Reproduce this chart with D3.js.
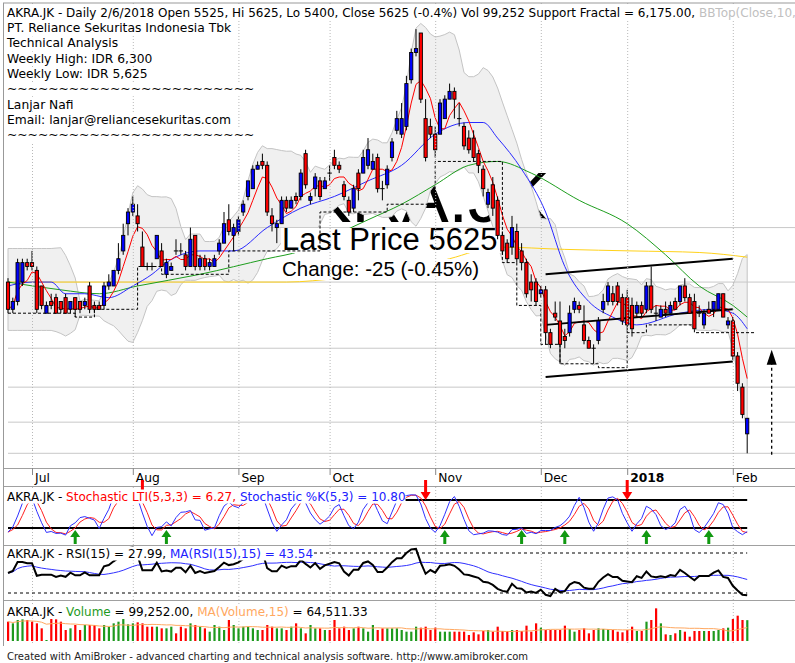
<!DOCTYPE html>
<html>
<head>
<meta charset="utf-8">
<title>AKRA.JK</title>
<script src="https://cdn.jsdelivr.net/npm/d3@7"></script>
<style>
  body { margin: 0; background: #fff; }
  #drawing_region { display: block; font-family: "DejaVu Sans", sans-serif; }
  text { white-space: pre; }
</style>
</head>
<body>
<svg id="drawing_region"></svg>
<script>
// daily bars, 16 Jun 2017 .. 6 Feb 2018 (IDR)
const opens = [
  6500, 6325, 6375, 6500, 6625, 6625, 6575, 6475, 6300, 6375,
  6400, 6375, 6400, 6325, 6400, 6375, 6350, 6475, 6350, 6350,
  6350, 6475, 6475, 6575, 6700, 6875, 6950, 6925, 6725, 6600,
  6600, 6650, 6700, 6550, 6575, 6700, 6700, 6675, 6600, 6800,
  6600, 6650, 6600, 6600, 6700, 6750, 6900, 6800, 6825, 6950,
  7050, 7100, 7225, 7275, 7250, 6925, 6850, 6875, 7025, 6975,
  7050, 7050, 7325, 7025, 7100, 7150, 7100, 7200, 7300, 7250,
  7125, 7025, 6975, 7200, 7200, 7250, 7225, 7300, 7100, 7125,
  7300, 7475, 7450, 7500, 7800, 7975, 8100, 7550, 7500, 7450,
  7450, 7550, 7675, 7725, 7550, 7500, 7425, 7425, 7325, 7225,
  7000, 7125, 7025, 6800, 6750, 6725, 6825, 6700, 6625, 6500,
  6500, 6425, 6450, 6175, 6300, 6250, 6150, 6175, 6325, 6350,
  6225, 6125, 6075, 6125, 6325, 6375, 6425, 6475, 6400, 6400,
  6350, 6300, 6350, 6325, 6475, 6300, 6275, 6325, 6300, 6375,
  6375, 6475, 6400, 6375, 6300, 6225, 6325, 6325, 6325, 6425,
  6225, 6250, 6025, 5825, 5525
];
const highs = [
  6525, 6400, 6650, 6650, 6650, 6700, 6600, 6475, 6375, 6425,
  6425, 6375, 6425, 6375, 6400, 6375, 6400, 6500, 6375, 6375,
  6500, 6550, 6575, 6750, 6875, 6975, 7050, 7000, 6825, 6625,
  6625, 6800, 6750, 6650, 6625, 6775, 6750, 6700, 6850, 6800,
  6675, 6675, 6650, 6675, 6775, 6950, 7000, 6875, 6925, 7025,
  7150, 7250, 7275, 7325, 7275, 6975, 6900, 7050, 7050, 7050,
  7075, 7225, 7350, 7075, 7200, 7175, 7175, 7250, 7350, 7275,
  7150, 7050, 7125, 7225, 7350, 7425, 7325, 7325, 7150, 7250,
  7425, 7600, 7650, 7825, 8000, 8125, 8100, 7675, 7550, 7500,
  7675, 7700, 7775, 7750, 7650, 7525, 7475, 7475, 7350, 7250,
  7100, 7175, 7050, 6825, 6775, 6925, 6875, 6750, 6650, 6550,
  6525, 6475, 6475, 6200, 6375, 6375, 6200, 6350, 6400, 6375,
  6350, 6150, 6100, 6275, 6425, 6500, 6475, 6500, 6425, 6450,
  6400, 6375, 6375, 6500, 6600, 6350, 6350, 6375, 6375, 6400,
  6475, 6525, 6425, 6425, 6350, 6325, 6375, 6375, 6425, 6425,
  6275, 6275, 6050, 5850, 5625
];
const lows = [
  6300, 6300, 6350, 6475, 6575, 6575, 6300, 6325, 6300, 6325,
  6300, 6300, 6300, 6300, 6275, 6300, 6325, 6300, 6300, 6325,
  6325, 6450, 6475, 6550, 6675, 6800, 6925, 6825, 6600, 6575,
  6575, 6650, 6600, 6525, 6575, 6675, 6675, 6575, 6600, 6575,
  6575, 6575, 6575, 6600, 6675, 6750, 6800, 6700, 6800, 6925,
  7025, 7100, 7225, 7225, 6925, 6825, 6750, 6875, 6950, 6975,
  7000, 7025, 7100, 7000, 7050, 7025, 7100, 7150, 7225, 7200,
  7025, 6925, 6950, 7025, 7200, 7225, 7225, 7075, 7025, 7100,
  7275, 7450, 7425, 7475, 7775, 7950, 7650, 7275, 7425, 7300,
  7450, 7550, 7675, 7550, 7500, 7350, 7325, 7275, 7200, 7050,
  6975, 6925, 6775, 6675, 6625, 6675, 6625, 6575, 6400, 6375,
  6350, 6400, 6100, 6075, 6250, 5975, 6075, 6150, 6300, 6300,
  6100, 6075, 5975, 6100, 6300, 6350, 6350, 6350, 6225, 6175,
  6150, 6275, 6275, 6300, 6300, 6250, 6275, 6275, 6300, 6325,
  6350, 6375, 6300, 6200, 6275, 6200, 6300, 6275, 6325, 6275,
  6200, 6000, 5800, 5625, 5400
];
const closes = [
  6325, 6375, 6625, 6625, 6600, 6600, 6325, 6350, 6350, 6350,
  6300, 6325, 6300, 6375, 6325, 6325, 6375, 6325, 6325, 6325,
  6475, 6500, 6575, 6650, 6800, 6950, 7000, 6875, 6600, 6600,
  6600, 6800, 6600, 6625, 6600, 6700, 6700, 6600, 6775, 6600,
  6650, 6600, 6625, 6650, 6750, 6875, 6825, 6850, 6900, 7000,
  7150, 7225, 7250, 7250, 6950, 6875, 6875, 7025, 6975, 7025,
  7025, 7200, 7125, 7050, 7175, 7050, 7150, 7200, 7250, 7225,
  7050, 6950, 7100, 7100, 7300, 7350, 7275, 7100, 7100, 7225,
  7400, 7550, 7550, 7775, 7975, 8000, 7675, 7300, 7450, 7350,
  7650, 7675, 7725, 7675, 7550, 7375, 7350, 7300, 7250, 7100,
  7075, 6975, 6800, 6700, 6650, 6850, 6650, 6625, 6425, 6450,
  6375, 6450, 6175, 6100, 6275, 6100, 6125, 6300, 6375, 6325,
  6125, 6075, 6075, 6250, 6375, 6475, 6375, 6375, 6250, 6225,
  6200, 6350, 6300, 6475, 6325, 6300, 6325, 6300, 6350, 6325,
  6475, 6400, 6300, 6200, 6300, 6300, 6300, 6375, 6425, 6275,
  6250, 6025, 5850, 5650, 5625
];
const volumes = [
  92000, 84100, 100000, 103100, 100000, 92000, 84100, 60300, 4800, 104700,
  103100, 92000, 52400, 60300, 76200, 52400, 76200, 76200, 76200, 60300,
  76200, 68200, 84100, 92000, 104700, 79300, 84100, 88900, 84100, 68200,
  68200, 68200, 60300, 60300, 68200, 36500, 68200, 60300, 84100, 76200,
  68200, 60300, 44400, 76200, 68200, 52400, 100000, 76200, 60300, 68200,
  68200, 60300, 52400, 52400, 76200, 68200, 60300, 60300, 52400, 68200,
  84100, 60300, 36500, 76200, 60300, 60300, 52400, 52400, 100000, 60300,
  68200, 52400, 60300, 68200, 60300, 44400, 76200, 52400, 60300, 60300,
  60300, 60300, 52400, 44400, 44400, 68200, 63500, 68200, 52400, 63500,
  44400, 44400, 44400, 44400, 44400, 44400, 28600, 41300, 31700, 47600,
  52400, 44400, 68200, 47600, 47600, 52400, 52400, 47600, 73000, 44400,
  84100, 63500, 52400, 52400, 52400, 52400, 73000, 57100, 44400, 52400,
  60300, 36500, 52400, 60300, 57100, 57100, 52400, 44400, 41300, 52400,
  68200, 47600, 47600, 92000, 100000, 155500, 84100, 31700, 28600, 36500,
  52400, 44400, 20600, 47600, 47600, 47600, 47600, 47600, 52400, 60300,
  63500, 104700, 120600, 100000, 99252
];

// moving averages: [bar, price]
const ma20Pts = [[0,6475],[5,6500],[9,6500],[12,6425],[16,6425],[21,6400],[26,6475],[30,6550],[33,6625],
  [40,6700],[47,6700],[54,6850],[61,6975],[68,7050],[75,7150],[82,7250],[89,7450],[96,7525],[99,7525],
  [102,7425],[107,7225],[112,6950],[116,6600],[121,6375],[126,6275],[131,6225],[140,6300],[147,6325],
  [151,6300],[154,6200]];
const ma50Pts = [[0,6500],[11,6450],[19,6425],[27,6475],[40,6550],[54,6650],[61,6700],[68,6800],[75,6900],
  [82,7000],[89,7125],[96,7250],[102,7275],[109,7200],[119,7025],[129,6875],[137,6675],[144,6475],
  [151,6350],[154,6275]];
const ma100Pts = [[0,6500],[19,6500],[40,6500],[58,6500],[69,6525],[82,6575],[92,6650],[102,6725],
  [116,6710],[130,6700],[144,6690],[154,6660]];

// support fractal steps: [from bar, to bar, price]
const fractalSteps = [[0,14,6300],[14,18,6275],[18,27,6325],[27,32,6600],[32,46,6550],[46,65,6700],
  [65,79,6950],[79,89,7000],[89,103,7275],[103,106,6625],[106,111,6350],[111,115,6100],[115,123,5975],
  [123,129,5950],[129,133,6175],[133,143,6225],[143,155.5,6175]];

// hand drawn channel
const channelLines = [[[112,6550],[151,6650]], [[112,6225],[151,6325]], [[112,5890],[151,5990]]];
const targetArrow = {bar: 159.1, from: 5390, to: 6065};

const monthStarts = [5, 26, 48, 67, 89, 111, 129, 151];
const monthLabels = ["Jul", "Aug", "Sep", "Oct", "Nov", "Dec", "2018", "Feb"];
const priceGrid = [6850, 6500, 6075, 5825, 5600, 5400];
const buySignals = [14, 33, 91, 107, 116, 133, 146];
const sellSignals = [28, 87, 129];

const infoLines = ["PT. Reliance Sekuritas Indonesia Tbk", "Technical Analysis", "Weekly High: IDR 6,300",
  "Weekly Low: IDR 5,625", "~~~~~~~~~~~~~~~~~~~~~~~~", "Lanjar Nafi", "Email: lanjar@reliancesekuritas.com",
  "~~~~~~~~~~~~~~~~~~~~~~~~"];

const svg = d3.select('#drawing_region').attr('width', 795).attr('height', 663);

const n = closes.length;
const x = d3.scaleLinear().domain([0, n - 1]).range([8, 747.2]);
const yP = d3.scaleLinear().domain([5400, 8100]).range([453.3, 33]);
const yS = d3.scaleLinear().domain([0, 100]).range([537.3, 490.7]);
const yR = d3.scaleLinear().domain([30, 70]).range([593, 553]);
const yV = d3.scaleLinear().domain([0, 160000]).range([641, 607.4]);

const panes = [[3, 468], [487, 545], [545, 600], [600, 645]];

// indicators
const sma = (arr, p) => arr.map((_, i) => d3.mean(arr.slice(Math.max(0, i - p + 1), i + 1)));
const ma5 = sma(closes, 5);
// first bars have no history, so they share the first full window
const bb = closes.map((_, i) => {
  const end = Math.max(i, 9);
  const w = closes.slice(end - 9, end + 1);
  const m = d3.mean(w);
  const sd = Math.sqrt(d3.mean(w, v => (v - m) ** 2));
  return {i, top: m + 2 * sd, bot: m - 2 * sd};
});
const fastK = closes.map((c, i) => {
  const hh = d3.max(highs.slice(Math.max(0, i - 4), i + 1));
  const ll = d3.min(lows.slice(Math.max(0, i - 4), i + 1));
  return hh === ll ? 50 : 100 * (c - ll) / (hh - ll);
});
const stochK = sma(fastK, 3);
const stochD = sma(stochK, 3);
const rsi = [];
let avgUp = 40, avgDn = 40;
closes.forEach((c, i) => {
  if (i > 0) {
    const d = c - closes[i - 1];
    avgUp = (avgUp * 14 + Math.max(d, 0)) / 15;
    avgDn = (avgDn * 14 + Math.max(-d, 0)) / 15;
  }
  rsi.push(100 - 100 / (1 + avgUp / avgDn));
});
const rsiMA = sma(rsi, 15);
const volMA = sma(volumes, 15);

// clip paths
const defs = svg.append('defs');
panes.forEach((p, k) => {
  defs.append('clipPath').attr('id', 'clip' + k).append('rect')
    .attr('x', 4).attr('y', p[0]).attr('width', 791).attr('height', p[1] - p[0]);
});

// text with an opaque white box behind it
function boxedText(g, tx, ty, parts, size) {
  const t = g.append('text').attr('x', tx).attr('y', ty).attr('font-size', size);
  parts.forEach(p => t.append('tspan').attr('fill', p[1]).text(p[0]));
  const b = t.node().getBBox();
  g.insert('rect', () => t.node()).attr('x', b.x).attr('y', b.y)
    .attr('width', b.width).attr('height', b.height).attr('fill', '#fff');
  return t;
}

const line = (ys) => d3.line().x((d, i) => x(i)).y(d => ys(d));

// ---------- price pane ----------
const gP = svg.append('g').attr('clip-path', 'url(#clip0)');

gP.append('text').attr('x', 258).attr('y', 222)
  .attr('font-family', '"Liberation Sans", Arial, sans-serif').attr('font-size', 70)
  .attr('fill', '#000').text('AKRA.JK');

gP.append('path').datum(bb)
  .attr('d', d3.area().x(d => x(d.i)).y0(d => yP(d.bot)).y1(d => yP(d.top)))
  .attr('fill', '#f0f0f0').attr('stroke', '#c4c4c4').attr('stroke-width', 1);

gP.selectAll('.hgrid').data(priceGrid).enter().append('line')
  .attr('x1', 8).attr('x2', 795).attr('y1', d => yP(d)).attr('y2', d => yP(d))
  .attr('stroke', '#c8c8c8');

const ptLine = d3.line().curve(d3.curveMonotoneX).x(d => x(d[0])).y(d => yP(d[1]));
[[ma100Pts, '#ffd21a'], [ma50Pts, '#1e9e1e'], [ma20Pts, '#2a2aff']].forEach(([pts, col]) => {
  gP.append('path').datum(pts).attr('d', ptLine).attr('fill', 'none').attr('stroke', col).attr('stroke-width', 1);
});
gP.append('path').datum(ma5).attr('d', line(yP)).attr('fill', 'none').attr('stroke', '#ff0000').attr('stroke-width', 1);

const lp = gP.append('g').attr('font-family', '"Liberation Sans", Arial, sans-serif');
lp.append('rect').attr('x', 281).attr('y', 228).attr('width', 220).attr('height', 25).attr('fill', '#fff');
lp.append('rect').attr('x', 281).attr('y', 259).attr('width', 200).attr('height', 21).attr('fill', '#fff');
lp.append('text').attr('x', 282).attr('y', 250).attr('font-size', 31).text('Last Price 5625');
lp.append('text').attr('x', 282).attr('y', 276).attr('font-size', 20.5).text('Change: -25 (-0.45%)');

// support fractal step line
let fd = '';
fractalSteps.forEach((s, k) => {
  fd += (k === 0 ? 'M' : 'L') + x(s[0]) + ',' + yP(s[2]) + 'L' + x(s[1]) + ',' + yP(s[2]);
});
gP.append('path').attr('d', fd).attr('fill', 'none').attr('stroke', '#000').attr('stroke-dasharray', '3,2');

channelLines.forEach(c => {
  gP.append('line').attr('x1', x(c[0][0])).attr('y1', yP(c[0][1])).attr('x2', x(c[1][0])).attr('y2', yP(c[1][1]))
    .attr('stroke', '#000').attr('stroke-width', 2);
});

// candles
const bars = closes.map((c, i) => ({i, o: opens[i], h: highs[i], l: lows[i], c}));
const cg = gP.selectAll('.candle').data(bars).enter().append('g').attr('class', 'candle');
cg.append('line').attr('x1', d => x(d.i)).attr('x2', d => x(d.i))
  .attr('y1', d => yP(d.h)).attr('y2', d => yP(d.l)).attr('stroke', '#000');
cg.filter(d => d.o !== d.c).append('rect')
  .attr('x', d => x(d.i) - 1.6).attr('width', 3.2)
  .attr('y', d => yP(Math.max(d.o, d.c))).attr('height', d => Math.abs(yP(d.o) - yP(d.c)))
  .attr('fill', d => d.c > d.o ? '#0000ff' : '#ff0000').attr('stroke', '#000').attr('stroke-width', 0.9);
cg.filter(d => d.o === d.c).append('line')
  .attr('x1', d => x(d.i) - 2.2).attr('x2', d => x(d.i) + 2.2)
  .attr('y1', d => yP(d.c)).attr('y2', d => yP(d.c)).attr('stroke', '#000');

// target arrow
const ax = x(targetArrow.bar);
gP.append('line').attr('x1', ax).attr('x2', ax).attr('y1', yP(targetArrow.from)).attr('y2', yP(targetArrow.to) + 12)
  .attr('stroke', '#000').attr('stroke-width', 1.3).attr('stroke-dasharray', '3,3');
gP.append('path').attr('d', `M${ax},${yP(targetArrow.to)}L${ax - 5},${yP(targetArrow.to) + 15}L${ax + 5},${yP(targetArrow.to) + 15}Z`)
  .attr('fill', '#000');

// ---------- grids, borders, axis ----------
const frame = svg.append('g');
panes.forEach(p => {
  frame.selectAll(null).data(monthStarts).enter().append('line')
    .attr('x1', d => x(d) + 0.5).attr('x2', d => x(d) + 0.5).attr('y1', p[0]).attr('y2', p[1])
    .attr('stroke', '#b8b8b8').attr('stroke-dasharray', '1,2');
});
[468.5, 486.5, 545.5, 600.5].forEach(yy => {
  frame.append('line').attr('x1', 3).attr('x2', 795).attr('y1', yy).attr('y2', yy).attr('stroke', '#a0a0a0');
});
frame.append('line').attr('x1', 3).attr('x2', 795).attr('y1', 3).attr('y2', 3).attr('stroke', '#999');
frame.append('line').attr('x1', 3.5).attr('x2', 3.5).attr('y1', 3).attr('y2', 646).attr('stroke', '#999');

const axisG = svg.append('g').attr('font-size', 12.3);
monthStarts.forEach((m, k) => {
  axisG.append('line').attr('x1', x(m) + 0.5).attr('x2', x(m) + 0.5).attr('y1', 468).attr('y2', 475).attr('stroke', '#888');
  axisG.append('text').attr('x', x(m) + 3).attr('y', 482)
    .attr('font-weight', monthLabels[k] === '2018' ? 'bold' : 'normal').text(monthLabels[k]);
});

// ---------- stochastic pane ----------
const gS = svg.append('g').attr('clip-path', 'url(#clip1)');
[80, 20].forEach(v => {
  gS.append('line').attr('x1', x(0)).attr('x2', x(n - 1)).attr('y1', yS(v)).attr('y2', yS(v))
    .attr('stroke', '#000').attr('stroke-width', 2);
});
gS.append('path').datum(stochD).attr('d', line(yS)).attr('fill', 'none').attr('stroke', '#ff2020');
gS.append('path').datum(stochK).attr('d', line(yS)).attr('fill', 'none').attr('stroke', '#3030ff');
buySignals.forEach(b => {
  const bx = x(b);
  gS.append('path').attr('d', `M${bx},530L${bx - 5},537L${bx - 1.5},537L${bx - 1.5},544L${bx + 1.5},544L${bx + 1.5},537L${bx + 5},537Z`)
    .attr('fill', '#119911');
});
const gSig = svg.append('g');
sellSignals.forEach(s => {
  const sx = x(s);
  gSig.append('path').attr('d', `M${sx},500L${sx - 5},492L${sx - 1.5},492L${sx - 1.5},480L${sx + 1.5},480L${sx + 1.5},492L${sx + 5},492Z`)
    .attr('fill', '#ff0000');
});

// ---------- RSI pane ----------
const gR = svg.append('g').attr('clip-path', 'url(#clip2)');
[70, 30].forEach(v => {
  gR.append('line').attr('x1', x(0)).attr('x2', x(n - 1)).attr('y1', yR(v)).attr('y2', yR(v))
    .attr('stroke', '#000').attr('stroke-dasharray', '3,3');
});
gR.append('path').datum(rsiMA).attr('d', line(yR)).attr('fill', 'none').attr('stroke', '#3030ff');
gR.append('path').datum(rsi).attr('d', line(yR)).attr('fill', 'none').attr('stroke', '#000').attr('stroke-width', 2);

// ---------- volume pane ----------
const gV = svg.append('g').attr('clip-path', 'url(#clip3)');
gV.selectAll('.vbar').data(volumes).enter().append('rect')
  .attr('x', (d, i) => x(i) - 1).attr('width', 2.2)
  .attr('y', d => yV(d)).attr('height', d => yV(0) - yV(d))
  .attr('fill', (d, i) => closes[i] > opens[i] ? '#1e9a1e' : '#ff0000');
gV.append('path').datum(volMA).attr('d', line(yV)).attr('fill', 'none').attr('stroke', '#ffa860');

// ---------- titles ----------
const tg = svg.append('g');
boxedText(tg, 7, 16.7, [
  ['AKRA.JK - Daily 2/6/2018 Open 5525, Hi 5625, Lo 5400, Close 5625 (-0.4%) Vol 99,252 Support Fractal = 6,175.00, ', '#000'],
  ['BBTop(Close,10,2) = 6,677.37, BBBot(Close,10,2) = 5,537.63', '#c0c0c0']], 12);
infoLines.forEach((t, k) => boxedText(tg, 7, 16.7 + 15.3 * (k + 1), [[t, '#000']], 12.3));
boxedText(tg, 7, 500.5, [['AKRA.JK - ', '#000'], ['Stochastic LTI(5,3,3) = 6.27, ', '#ff0000'],
  ['Stochastic %K(5,3) = 10.80', '#2020ff']], 12);
boxedText(tg, 7, 557.5, [['AKRA.JK - RSI(15) = 27.99, ', '#000'], ['MA(RSI(15),15) = 43.54', '#2020ff']], 12);
boxedText(tg, 7, 615.5, [['AKRA.JK - ', '#000'], ['Volume', '#1e9a1e'], [' = 99,252.00, ', '#000'],
  ['MA(Volume,15)', '#ffa860'], [' = 64,511.33', '#000']], 12);

svg.append('text').attr('x', 7).attr('y', 660).attr('font-size', 10).attr('fill', '#222')
  .text('Created with AmiBroker - advanced charting and technical analysis software. http://www.amibroker.com');
</script>
</body>
</html>
